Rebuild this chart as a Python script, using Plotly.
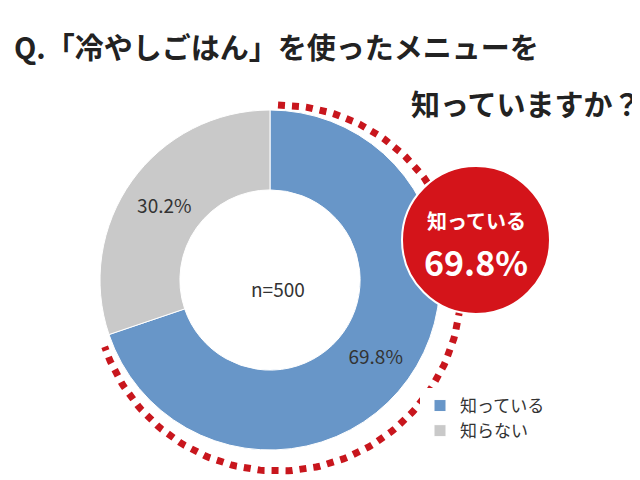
import numpy as np
import plotly.graph_objects as go

labels = ["知っている", "知らない"]
values = [69.8, 30.2]
colors = ["#6896c8", "#c9c9c9"]
n_label = "n=500"

W, H = 640, 480
cx, cy, r = 270, 280, 170
pcx, pcy = 262, 272  # domain centre offset to compensate plotly placement


def px(x, y):
    return x / W, 1 - y / H


fig = go.Figure()
fig.add_trace(go.Pie(
    labels=labels, values=values, hole=0.53, sort=False, direction="clockwise",
    rotation=0, marker=dict(colors=colors, line=dict(color="white", width=1)),
    texttemplate="%{value}%", textposition="inside", insidetextorientation="horizontal",
    textfont=dict(size=19, color="#333333"),
    domain=dict(x=[(pcx - r) / W, (pcx + r) / W], y=[1 - (pcy + r) / H, 1 - (pcy - r) / H]),
    showlegend=True,
))

# red dotted arc along the outside of the "知っている" slice
ang = np.linspace(90, 90 - values[0] / sum(values) * 360, 200)
ra = r + 13
ax = [(cx + ra * np.cos(np.radians(a))) / W for a in ang]
ay = [1 - (cy - ra * np.sin(np.radians(a))) / H for a in ang]
fig.add_trace(go.Scatter(x=ax, y=ay, mode="lines", xaxis="x", yaxis="y", showlegend=False,
                         line=dict(color="#c8161d", width=7, dash="dot"), hoverinfo="skip"))

# red badge
bx, by, br = 468, 232, 74
x0, y0 = px(bx - br, by + br)
x1, y1 = px(bx + br, by - br)
shapes = [dict(type="circle", xref="paper", yref="paper", x0=x0, y0=y0, x1=x1, y1=y1,
               fillcolor="#d4141a", line=dict(color="white", width=2))]

font = "Noto Sans CJK JP"
ann = []
def add(text, x, y, size, color="#222222", xanchor="center", bold=False):
    xx, yy = px(x, y)
    ann.append(dict(text=f"<b>{text}</b>" if bold else text, x=xx, y=yy, xref="paper", yref="paper",
                    showarrow=False, xanchor=xanchor, yanchor="middle",
                    font=dict(size=size, color=color, family=font)))

add("Q.「冷やしごはん」を使ったメニューを", 4, 38, 29, xanchor="left", bold=True)
add("知っていますか？", 636, 95, 29, xanchor="right", bold=True)
add(n_label, pcx + 8, 280, 19, color="#333333")
add("知っている", bx, 212, 20, color="white", bold=True)
add(f"{values[0]}%", bx, 253, 34, color="white", bold=True)

fig.update_layout(
    width=W, height=H, margin=dict(l=0, r=0, t=0, b=0),
    paper_bgcolor="white", plot_bgcolor="rgba(0,0,0,0)",
    xaxis=dict(range=[0, 1], visible=False, fixedrange=True),
    yaxis=dict(range=[0, 1], visible=False, fixedrange=True),
    shapes=shapes, annotations=ann,
    legend=dict(x=412 / W, y=1 - 380 / H, xanchor="left", yanchor="top",
                font=dict(size=17, color="#333333", family=font), tracegroupgap=10,
                itemwidth=30),
    font=dict(family=font),
)
fig.write_html("out.html")
